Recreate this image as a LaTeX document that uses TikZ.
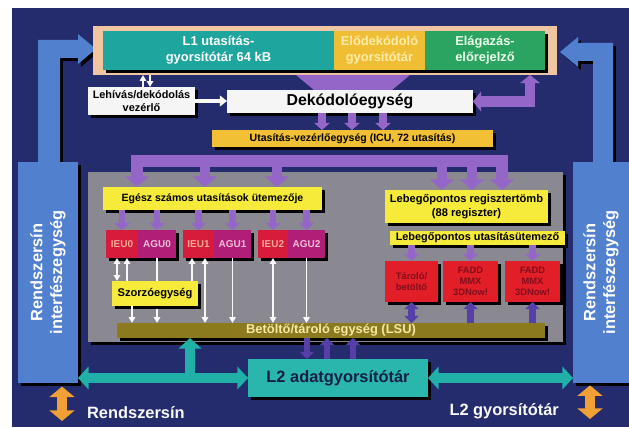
\documentclass[tikz,border=0pt]{standalone}
\usepackage{fontspec}
\setmainfont{Liberation Sans}
\usetikzlibrary{arrows.meta,shadows}

\definecolor{navy}{RGB}{36,44,110}
\definecolor{ifblue}{RGB}{80,128,206}
\definecolor{peach}{RGB}{240,198,162}
\definecolor{lteal}{RGB}{30,165,158}
\definecolor{pregold}{RGB}{240,190,52}
\definecolor{paleyel}{RGB}{252,236,170}
\definecolor{brgreen}{RGB}{42,164,96}
\definecolor{purp}{RGB}{148,102,200}
\definecolor{dpurp}{RGB}{86,64,168}
\definecolor{icugold}{RGB}{242,192,52}
\definecolor{cgray}{RGB}{138,136,144}
\definecolor{syellow}{RGB}{246,234,58}
\definecolor{ieured}{RGB}{214,28,58}
\definecolor{agumag}{RGB}{176,30,120}
\definecolor{ieutxt}{RGB}{246,172,150}
\definecolor{agutxt}{RGB}{242,192,216}
\definecolor{fpred}{RGB}{226,30,40}
\definecolor{fptxt}{RGB}{130,14,28}
\definecolor{lsuolive}{RGB}{140,122,30}
\definecolor{lsutxt}{RGB}{244,232,164}
\definecolor{busteal}{RGB}{32,176,168}
\definecolor{l2teal}{RGB}{42,182,172}
\definecolor{l2txt}{RGB}{20,30,70}
\definecolor{orng}{RGB}{240,160,52}

\begin{document}
\begin{tikzpicture}[x=0.03cm, y=-0.03cm,
  shad/.style={drop shadow={shadow xshift=2.5pt, shadow yshift=-2.5pt, fill=black, opacity=1}},
  bx/.style n args={4}{at={({(#1+#3)/2},{(#2+#4)/2})},
    minimum width={(#3-#1)*0.03cm}, minimum height={(#4-#2)*0.03cm},
    inner sep=0pt, outer sep=0pt},
  blk/.style={align=center, shad},
  topf/.style={font=\bfseries\fontsize{11}{13.5}\selectfont},
  iftext/.style={text=white, align=center, font=\bfseries\fontsize{14}{17}\selectfont},
  unit/.style={blk, font=\bfseries\fontsize{8.5}{10}\selectfont},
  fpunit/.style={blk, fill=fpred, text=fptxt, font=\bfseries\fontsize{8}{9.5}\selectfont},
  wline/.style={draw=white!95!gray, line width=1.5pt},
  pline/.style={draw=purp},
  dline/.style={draw=dpurp, line width=5.5pt},
  tline/.style={draw=busteal, line width=9pt},
  oline/.style={draw=orng, line width=9pt},
  lbl/.style={text=white!95!gray, font=\bfseries\fontsize{14}{16}\selectfont},
  wT/.tip={Triangle[width=5.5pt,length=5pt]},
  wTB/.tip={Triangle[width=9pt,length=6pt]},
  pTB/.tip={Triangle[width=17pt,length=7pt]},
  pTS/.tip={Triangle[width=13pt,length=6pt]},
  pTM/.tip={Triangle[width=20pt,length=9pt]},
  dT/.tip={Triangle[width=12pt,length=6pt]},
  tT/.tip={Triangle[width=19pt,length=9pt]},
  oT/.tip={Triangle[width=21pt,length=9pt]}]

  % --- 1. háttér ---
  \useasboundingbox (0,0) rectangle (629,427);
  \fill[white] (0,0) rectangle (629,427);
  \fill[navy] (12,8) rectangle (629,427);

  % --- 2. rendszersín interfészegységek ---
  \fill[ifblue, shad] (38,175) -- (38,40) -- (78,40) -- (78,34) -- (96,49) -- (78,64)
    -- (78,58) -- (60,58) -- (60,175) -- cycle;
  \fill[ifblue, shad] (613,175) -- (613,43) -- (578,43) -- (578,37) -- (560,52) -- (578,67)
    -- (578,61) -- (593,61) -- (593,175) -- cycle;
  \node[blk, fill=ifblue, bx={18}{162}{78}{383}] (ifl) {};
  \node[blk, fill=ifblue, bx={573}{162}{629}{383}] (ifr) {};
  \node[iftext, rotate=90] (ifltxt) at (ifl.center) {Rendszersín\\interfészegység};
  \node[iftext, rotate=90] (ifrtxt) at (ifr.center) {Rendszersín\\interfészegység};

  % --- 3. L1, elődekódoló, elágazás ---
  \node[fill=peach, bx={93}{26}{557}{75}] (frame) {};
  \node[blk, topf, fill=lteal, text=white, bx={103}{31}{334}{70}] (l1) {L1 utasítás-\\gyorsítótár 64 kB};
  \node[blk, topf, fill=pregold, text=paleyel, bx={334}{31}{425}{70}] (pre) {Elődekódoló\\gyorsítótár};
  \node[blk, topf, fill=brgreen, text=white!92!green, bx={425}{31}{545}{70}] (elag) {Elágazás-\\előrejelző};
  \fill[purp] (296,75) -- (410,75) -- (392,90) -- (314,90) -- cycle;

  % --- 4. dekódolás ---
  \node[blk, fill=white!96!black, font=\bfseries\fontsize{9.3}{11}\selectfont,
    bx={88}{87}{195}{115}] (lehiv) {Lehívás/dekódolás\\vezérlő};
  \node[blk, fill=white!96!black, font=\bfseries\fontsize{13.5}{15}\selectfont,
    bx={227}{90}{473}{113}] (dek) {Dekódolóegység};
  \node[blk, fill=icugold, font=\bfseries\fontsize{9}{10}\selectfont,
    bx={212}{130}{493}{147}] (icu) {Utasítás-vezérlőegység (ICU, 72 utasítás)};

  \draw[wline, -wT] (143,0 |- lehiv.north) -- (143,0 |- frame.south);
  \draw[wline, -wT] (150,0 |- frame.south) -- (150,0 |- lehiv.north);
  \draw[wline, line width=2.8pt, -wTB] (lehiv.east) -- (lehiv.east -| dek.west);
  \draw[pline, line width=9pt, pTB-pTB] (530,0 |- frame.south) |- (dek.east);
  \foreach \xx in {322,352,383}
    \draw[pline, line width=6pt, -pTS] (\xx,0 |- dek.south) -- (\xx,0 |- icu.north);

  % --- 5. végrehajtó egységek ---
  \node[shad, fill=cgray, bx={88}{172}{563}{342}] (core) {};
  \node[blk, fill=lsuolive, text=lsutxt, font=\bfseries\fontsize{11}{12}\selectfont,
    bx={117}{323}{545}{338}] (lsu) {Betöltő/tároló egység (LSU)};
  \node[blk, fill=syellow, font=\bfseries\fontsize{9}{10}\selectfont,
    bx={103}{187}{322}{210}] (isched) {Egész számos utasítások ütemezője};
  \node[blk, fill=syellow, font=\bfseries\fontsize{9.5}{12.5}\selectfont,
    bx={385}{190}{548}{223}] (freg) {Lebegőpontos regisztertömb\\(88 regiszter)};
  \node[blk, fill=syellow, font=\bfseries\fontsize{9.3}{10}\selectfont,
    bx={390}{231}{565}{245}] (fsched) {Lebegőpontos utasításütemező};

  \foreach \n/\xa/\xb/\xc in {0/106/138/176, 1/183/214/251, 2/258/288/325} {
    \node[unit, fill=ieured, text=ieutxt, bx={\xa}{230}{\xb}{258}] (ieu\n) {IEU\n};
    \node[unit, fill=agumag, text=agutxt, bx={\xb}{230}{\xc}{258}] (agu\n) {AGU\n};
  }
  \node[fpunit, bx={385}{261}{438}{302}] (fpu0) {Tároló/\\betöltő};
  \node[fpunit, bx={443}{261}{498}{302}] (fpu1) {FADD\\MMX\\3DNow!};
  \node[fpunit, bx={505}{261}{560}{302}] (fpu2) {FADD\\MMX\\3DNow!};

  % ICU -> ütemezők
  \draw[pline, line width=11pt, line join=miter, pTM-pTM]
    (137,0 |- isched.north) |- (300,161) -| (502,0 |- freg.north);
  \foreach \xx in {205,277}
    \draw[pline, line width=9pt, -pTM] (\xx,161) -- (\xx,0 |- isched.north);
  \foreach \xx in {442,472}
    \draw[pline, line width=9pt, -pTM] (\xx,161) -- (\xx,0 |- freg.north);

  % ütemezők -> egységek
  \foreach \n in {0,1,2} {
    \draw[pline, line width=5.5pt, -pTS] (ieu\n.north |- isched.south) -- (ieu\n.north);
    \draw[pline, line width=5.5pt, -pTS] (agu\n.north |- isched.south) -- (agu\n.north);
    \draw[pline, line width=5.5pt, -pTS] (fpu\n.north |- fsched.south) -- (fpu\n.north);
  }

  % egységek <-> LSU
  \draw[wline, -wT] (agu0.south) -- (agu0.south |- lsu.north);
  \node[blk, fill=syellow, font=\bfseries\fontsize{9.5}{11}\selectfont,
    bx={112}{281}{198}{306}] (mul) {Szorzóegység};
  \draw[wline, wT-wT] (117,0 |- ieu0.south) -- (117,0 |- mul.north);
  \draw[wline, -wT] (127,0 |- mul.north) -- (127,0 |- ieu0.south);
  \draw[wline, -wT] (132,0 |- mul.south) -- (132,0 |- lsu.north);
  \draw[wline, -wT] (192,0 |- mul.north) -- (192,0 |- ieu1.south);
  \draw[wline, wT-wT] (205,0 |- ieu1.south) -- (205,0 |- lsu.north);
  \draw[wline, -wT] (agu1.south) -- (agu1.south |- lsu.north);
  \draw[wline, wT-wT] (ieu2.south) -- (ieu2.south |- lsu.north);
  \draw[wline, -wT] (agu2.south) -- (agu2.south |- lsu.north);

  \draw[dline, dT-dT] (fpu0.south |- lsu.north) -- (fpu0.south);
  \draw[dline, -dT] (fpu1.south |- lsu.north) -- (fpu1.south);
  \draw[dline, -dT] (fpu2.south |- lsu.north) -- (fpu2.south);

  % --- 6. L2 és sínek ---
  \node[blk, fill=l2teal, text=l2txt, font=\bfseries\fontsize{14}{16}\selectfont,
    bx={248}{359}{428}{397}] (l2) {L2 adatgyorsítótár};
  \draw[dline, -dT] (307,0 |- lsu.south) -- (307,0 |- l2.north);
  \draw[dline, -dT] (327,0 |- l2.north) -- (327,0 |- lsu.south);
  \draw[dline, -dT] (353,0 |- l2.north) -- (353,0 |- lsu.south);

  \draw[tline, tT-tT] (ifl.east |- l2.west) -- (l2.west);
  \draw[tline, -tT] (190,0 |- l2.west) -- (190,0 |- lsu.south);
  \draw[tline, tT-tT] (l2.east) -- (l2.east -| ifr.west);

  \coordinate (obusl) at (62,421);
  \coordinate (obusr) at (590,419);
  \draw[oline, oT-oT] ([yshift=-3pt]obusl |- ifl.south) -- (obusl);
  \draw[oline, oT-oT] ([yshift=-2pt]obusr |- ifr.south) -- (obusr);
  \node[lbl, anchor=west] (rsin) at (83,413) {Rendszersín};
  \node[lbl, anchor=east] (l2gy) at (563,411) {L2 gyorsítótár};

\end{tikzpicture}
\end{document}
